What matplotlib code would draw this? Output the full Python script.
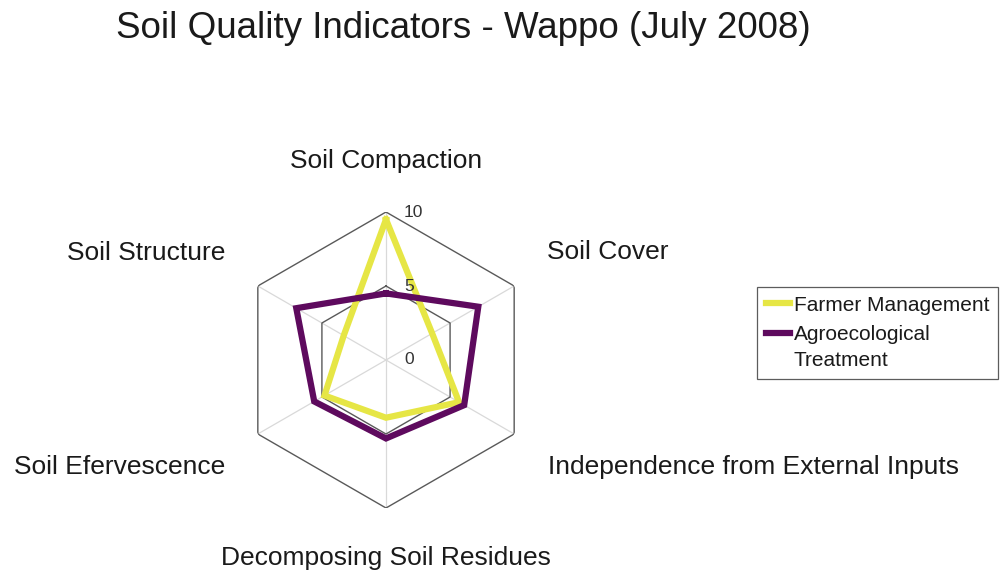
import numpy as np
import matplotlib
matplotlib.use("Agg")
import matplotlib.pyplot as plt
from matplotlib.legend_handler import HandlerLine2D

plt.rcParams['font.family'] = ['Liberation Sans', 'DejaVu Sans']

categories = ["Soil Compaction", "Soil Cover", "Independence from External Inputs",
              "Decomposing Soil Residues", "Soil Efervescence", "Soil Structure"]
farmer = [9.5, 3.6, 5.7, 3.9, 4.8, 3.3]
agro = [4.5, 7.2, 6.1, 5.3, 5.6, 7.0]
series_names = ["Farmer Management", "Agroecological\nTreatment"]
ring_levels = [0, 5, 10]
tick_labels = ["0", "5", "10"]

W, H = 1000, 578
fig = plt.figure(figsize=(W / 100, H / 100), dpi=100)
cx, cy, R = 386, 360, 148
ax = fig.add_axes([(cx - R) / W, (H - cy - R) / H, 2 * R / W, 2 * R / H], projection="polar")
ax.set_theta_offset(np.pi / 2)
ax.set_theta_direction(-1)
ax.set_ylim(0, 10)
ax.grid(False)
ax.spines["polar"].set_visible(False)
ax.set_xticks([])
ax.set_yticks([])
ax.patch.set_alpha(0)

n = len(categories)
angles = np.linspace(0, 2 * np.pi, n, endpoint=False)
closed = np.append(angles, angles[0])

# spokes
for a in angles:
    ax.plot([a, a], [0, 10], color="#d9d9d9", lw=0.9, zorder=1)
# rings
for lv in ring_levels[1:]:
    ax.plot(closed, [lv] * (n + 1), color="#595959", lw=1.0, zorder=2)

colors = ["#e6e645", "#5e0a5e"]
handles = []
for vals, name, col in zip([farmer, agro], series_names, colors):
    v = list(vals) + [vals[0]]
    ln, = ax.plot(closed, v, color=col, lw=4.5, label=name, zorder=3, solid_joinstyle="miter")
    handles.append(ln)

# tick labels
for lv, tl in zip(ring_levels, tick_labels):
    ax.annotate(tl, xy=(0, lv), xytext=(13, 0), textcoords="offset points",
                ha="left", va="center", fontsize=12.5, color="#333333")

# category labels
label_pos = [
    (0.0, 13.45, "center"),
    (56.3, 13.1, "left"),
    (123.4, 13.1, "left"),
    (180.0, 13.4, "center"),
    (236.3, 13.05, "right"),
    (303.7, 13.05, "right"),
]
for (deg, r, ha), cat in zip(label_pos, categories):
    ax.text(np.deg2rad(deg), r, cat, ha=ha, va="center", fontsize=19, color="#1a1a1a", clip_on=False)

fig.text(0.463, 1 - 28 / H, "Soil Quality Indicators - Wappo (July 2008)", ha="center", va="center",
         fontsize=26.5, color="#1a1a1a")


class TopHandler(HandlerLine2D):
    def __init__(self, shift=0.0, **kw):
        super().__init__(**kw)
        self.shift = shift

    def create_artists(self, legend, orig_handle, xdescent, ydescent, width, height, fontsize, trans):
        arts = super().create_artists(legend, orig_handle, xdescent, ydescent, width, height,
                                      fontsize, trans)
        for a in arts:
            a.set_ydata(np.asarray(a.get_ydata()) + self.shift * fontsize)
        return arts


leg = fig.legend(handles=handles, labels=series_names, loc="upper left",
                 bbox_to_anchor=(757 / W, 1 - 287 / H), frameon=True,
                 fontsize=15, handlelength=1.15, handletextpad=0.2, borderpad=0.42,
                 borderaxespad=0, labelspacing=0.5, fancybox=False, edgecolor="#333333",
                 handler_map={handles[0]: TopHandler(0.0), handles[1]: TopHandler(0.7)})
leg.get_frame().set_linewidth(0.9)
for t in leg.get_texts():
    t.set_linespacing(1.45)
    t.set_color("#1a1a1a")

fig.savefig("out.png", dpi=100, facecolor="white")
